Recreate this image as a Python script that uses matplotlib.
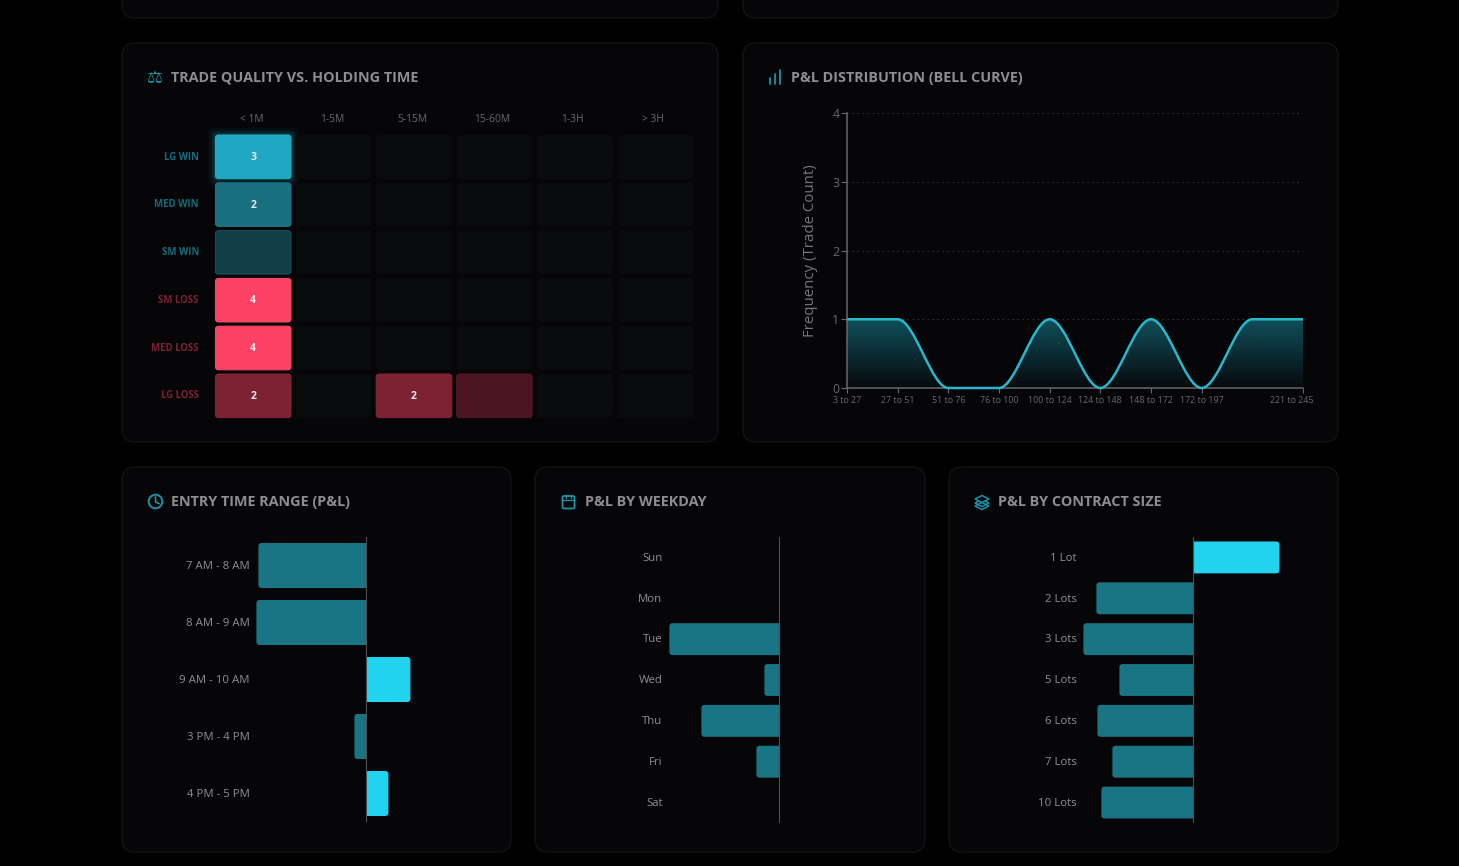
import numpy as np
import matplotlib
matplotlib.use("Agg")
import matplotlib.pyplot as plt
from matplotlib.patches import FancyBboxPatch, Circle, Polygon, PathPatch
from matplotlib.path import Path
from matplotlib.colors import to_rgb
from matplotlib.transforms import Bbox, TransformedBbox, ScaledTranslation

plt.rcParams['font.family'] = ['Open Sans', 'DejaVu Sans']

W, H = 1459, 866

# heatmap data
hold_times = ['< 1M', '1-5M', '5-15M', '15-60M', '1-3H', '> 3H']
quality_rows = ['LG WIN', 'MED WIN', 'SM WIN', 'SM LOSS', 'MED LOSS', 'LG LOSS']
quality_counts = [
    [3, 0, 0, 0, 0, 0],
    [2, 0, 0, 0, 0, 0],
    [1, 0, 0, 0, 0, 0],
    [4, 0, 0, 0, 0, 0],
    [4, 0, 0, 0, 0, 0],
    [2, 0, 2, 1, 0, 0],
]

# distribution data
pnl_bins = ['3 to 27', '27 to 51', '51 to 76', '76 to 100', '100 to 124',
            '124 to 148', '148 to 172', '172 to 197', '197 to 221', '221 to 245']
pnl_freq = [1, 1, 0, 0, 1, 0, 1, 0, 1, 1]
freq_ticks = [0, 1, 2, 3, 4]

# bar data
entry_ranges = ['7 AM - 8 AM', '8 AM - 9 AM', '9 AM - 10 AM', '3 PM - 4 PM', '4 PM - 5 PM']
entry_pnl = [-108, -110, 44, -12, 22]
weekdays = ['Sun', 'Mon', 'Tue', 'Wed', 'Thu', 'Fri', 'Sat']
weekday_pnl = [0, 0, -110, -15, -78, -23, 0]
contract_sizes = ['1 Lot', '2 Lots', '3 Lots', '5 Lots', '6 Lots', '7 Lots', '10 Lots']
contract_pnl = [86, -97, -110, -74, -96, -81, -92]

PAGE = '#010102'
PANEL = '#060608'
BORDER = '#121316'
TEAL = '#1a92a8'
POS = '#22d3ee'
NEG = '#197484'
TITLE = '#8c8e93'
LABEL = '#8e9094'

win_colors = {1: '#123f47', 2: '#19707f', 3: '#1fa6c0'}
loss_colors = {1: '#4a1520', 2: '#7d2233', 4: '#fb4264'}
edge_win = {1: '#1a505a', 2: '#1c7a8a', 3: '#25adc7'}
edge_loss = {1: '#511925', 2: '#84263a', 4: '#fc4a6a'}
EMPTY = '#0a0b0d'


def px_axes(left, top, right, bottom):
    return fig.add_axes([left / W, 1 - bottom / H, (right - left) / W, (bottom - top) / H])


fig = plt.figure(figsize=(W / 100, H / 100), dpi=100, facecolor=PAGE)

# background layer in pixel coordinates
bg = fig.add_axes([0, 0, 1, 1])
bg.set_xlim(0, W)
bg.set_ylim(H, 0)
bg.axis('off')


def panel(x0, y0, x1, y1):
    bg.add_patch(FancyBboxPatch((x0, y0), x1 - x0, y1 - y0,
                                boxstyle='round,pad=0,rounding_size=13',
                                fc=PANEL, ec=BORDER, lw=1))


panel(122, -40, 718, 18)
panel(743, -40, 1338, 18)
panel(122, 43, 718, 442)
panel(743, 43, 1338, 442)
panel(122, 467, 511, 852)
panel(535, 467, 925, 852)
panel(949, 467, 1338, 852)

titles = [(171, 78, 'TRADE QUALITY VS. HOLDING TIME'),
          (791, 78, 'P&L DISTRIBUTION (BELL CURVE)'),
          (171, 502, 'ENTRY TIME RANGE (P&L)'),
          (585, 502, 'P&L BY WEEKDAY'),
          (998, 502, 'P&L BY CONTRACT SIZE')]
for tx, ty, s in titles:
    bg.text(tx, ty, s, color=TITLE, fontsize=10.4, fontweight='bold', va='center', ha='left')

# icons
bg.text(155, 78, '\u2696', color=TEAL, fontsize=13, ha='center', va='center', family='DejaVu Sans')
for bx, h in [(770, 6), (775, 10), (780, 14)]:
    bg.plot([bx, bx], [84, 84 - h], color=TEAL, lw=1.3, solid_capstyle='round')
bg.add_patch(Circle((155.5, 501.5), 6.8, fc='none', ec=TEAL, lw=1.4))
bg.plot([155.5, 155.5, 159], [497, 502, 503.5], color=TEAL, lw=1.2)
bg.add_patch(FancyBboxPatch((562.5, 496), 12, 12.5, boxstyle='round,pad=0,rounding_size=1.5',
                            fc='none', ec=TEAL, lw=1.3))
bg.plot([563, 574], [500, 500], color=TEAL, lw=1)
for cx in [566, 571]:
    bg.plot([cx, cx], [494.5, 497.5], color=TEAL, lw=1)
for ly, fc in [(506, 'none'), (503, 'none'), (499, PANEL)]:
    bg.add_patch(Polygon([(975, ly), (982, ly - 3.5), (989, ly), (982, ly + 3.5)],
                         closed=True, fc=fc, ec=TEAL, lw=1.1))

# ---- heatmap
col_w, row_h = 80.4, 47.8
ax = px_axes(213, 132.9, 213 + 6 * col_w, 132.9 + 6 * row_h)
ax.set_xlim(0, 6)
ax.set_ylim(6, 0)
ax.axis('off')
aspect = col_w / row_h
cell_w, cell_h = 75.6 / col_w, 43.6 / row_h


def rounded(axis, x, y, w, h, r, aspect_, **kw):
    p = FancyBboxPatch((x, y), w, h, boxstyle=f'round,pad=0,rounding_size={r}',
                       mutation_aspect=aspect_, **kw)
    p.set_clip_on(False)
    axis.add_patch(p)
    return p


for r, row in enumerate(quality_counts):
    win = r < 3
    for c, v in enumerate(row):
        x, y = c + (1 - cell_w) / 2, r + (1 - cell_h) / 2
        if v == 0:
            rounded(ax, x, y, cell_w, cell_h, 0.04, aspect, fc=EMPTY, ec='none')
            continue
        fc = win_colors[v] if win else loss_colors[v]
        ec = edge_win[v] if win else edge_loss[v]
        if v == 3:
            for grow, a in [(0.09, 0.04), (0.06, 0.06), (0.035, 0.09), (0.015, 0.12)]:
                rounded(ax, x - grow, y - grow * aspect, cell_w + 2 * grow, cell_h + 2 * grow * aspect,
                        0.06, aspect, fc=POS, ec='none', alpha=a)
        rounded(ax, x, y, cell_w, cell_h, 0.04, aspect, fc=fc, ec=ec, lw=0.7)
        if v > 1:
            ax.text(x + cell_w / 2, y + cell_h / 2 + 0.012, str(v), color='#e8e9ea', fontsize=7.6,
                    fontweight='bold', ha='center', va='center')
    bg.text(199, 157 + r * 47.8, quality_rows[r], ha='right', va='center', fontsize=6.9, fontweight='bold',
            color='#136c7d' if win else '#7d2233')
for c, s in enumerate(hold_times):
    bg.text(252 + c * 80.2, 119.6, s, ha='center', va='center', fontsize=7.4, color='#66686c')

# ---- bell curve
ax = px_axes(847, 113, 1303, 388)
ax.set_facecolor('none')

# flat tangents at every point, as the monotone curve has here
verts = [(0, pnl_freq[0])]
codes = [Path.MOVETO]
for i in range(len(pnl_freq) - 1):
    verts += [(i + 1 / 3, pnl_freq[i]), (i + 2 / 3, pnl_freq[i + 1]), (i + 1, pnl_freq[i + 1])]
    codes += [Path.CURVE4] * 3
line = Path(verts, codes)
area = Path(verts + [(len(pnl_freq) - 1, 0), (0, 0), (0, 0)],
            codes + [Path.LINETO, Path.LINETO, Path.CLOSEPOLY])

grad = np.zeros((256, 1, 4))
grad[..., :3] = to_rgb(POS)
grad[..., 3] = np.linspace(0.36, 0.02, 256)[:, None]
im = ax.imshow(grad, extent=[0, 9, 0, 1], aspect='auto', origin='upper', zorder=2)
area_patch = PathPatch(area, transform=ax.transData, fc='none', ec='none')
ax.add_patch(area_patch)
im.set_clip_path(area_patch)
ax.add_patch(PathPatch(line, fc='none', ec='#27b8d0', lw=1.8, zorder=3, clip_on=False))
ax.set_xlim(0, 9)
ax.set_ylim(0, 4)

ax.set_yticks(freq_ticks)
ax.set_yticklabels([str(t) for t in freq_ticks])
tick_pos = [i for i in range(len(pnl_bins)) if i != 8]
ax.set_xticks(tick_pos)
ax.set_xticklabels([pnl_bins[i] for i in tick_pos])
ax.tick_params(axis='y', colors='#66686c', labelsize=8.8, length=4, width=0.8, pad=1.5, color='#66686c')
ax.tick_params(axis='x', colors='#66686c', labelsize=6.4, length=3.6, width=0.8, pad=2, color='#66686c')
ax.yaxis.grid(True, color='#303135', lw=0.8, dashes=(1.5, 3))
ax.set_axisbelow(True)
for s in ['top', 'right']:
    ax.spines[s].set_visible(False)
for s in ['left', 'bottom']:
    ax.spines[s].set_color('#66686c')
    ax.spines[s].set_linewidth(1.1)
last = ax.get_xticklabels()[-1]
last.set_transform(last.get_transform() + ScaledTranslation(-11 / 100, 0, fig.dpi_scale_trans))
bg.text(810, 251, 'Frequency (Trade Count)', rotation=90, ha='center', va='center',
        color='#74767a', fontsize=10.8)


# ---- horizontal bars
def bar_panel(zero, top, bottom, cats, vals):
    left, right = zero - 112, zero + 138
    a = px_axes(left, top, right, bottom)
    a.set_facecolor('none')
    a.set_xlim(-112, 138)
    a.set_ylim(len(cats) - 0.5, -0.5)
    a.set_yticks(range(len(cats)))
    a.set_yticklabels(cats)
    a.set_xticks([])
    a.tick_params(axis='y', length=0, pad=3.6, labelsize=8.2, labelcolor=LABEL)
    for lab in a.get_yticklabels():
        lab.set_transform(lab.get_transform() + ScaledTranslation(0, 0.7 / 100, fig.dpi_scale_trans))
    for s in a.spines.values():
        s.set_visible(False)
    pitch = (bottom - top) / len(cats)
    bar_h = (0.79 if len(cats) == 5 else 0.78)
    for i, v in enumerate(vals):
        if v == 0:
            continue
        col = POS if v > 0 else NEG
        # run past zero and clip there, so only the far end is rounded
        x0, w = (-6, v + 6) if v > 0 else (v, -v + 6)
        p = FancyBboxPatch((x0, i - bar_h / 2), w, bar_h, boxstyle='round,pad=0,rounding_size=3',
                           mutation_aspect=1 / pitch, fc=col, ec='none')
        a.add_patch(p)
        box = Bbox([[0, -1], [138, len(cats)]]) if v > 0 else Bbox([[-112, -1], [0, len(cats)]])
        p.set_clip_box(TransformedBbox(box, a.transData))
    a.axvline(0, color='#4d4f53', lw=0.8, zorder=5)


bar_panel(366.4, 537, 822, entry_ranges, entry_pnl)
bar_panel(779.4, 537, 823, weekdays, weekday_pnl)
bar_panel(1193.4, 537, 823, contract_sizes, contract_pnl)

fig.savefig('out.png', dpi=100, facecolor=PAGE)
